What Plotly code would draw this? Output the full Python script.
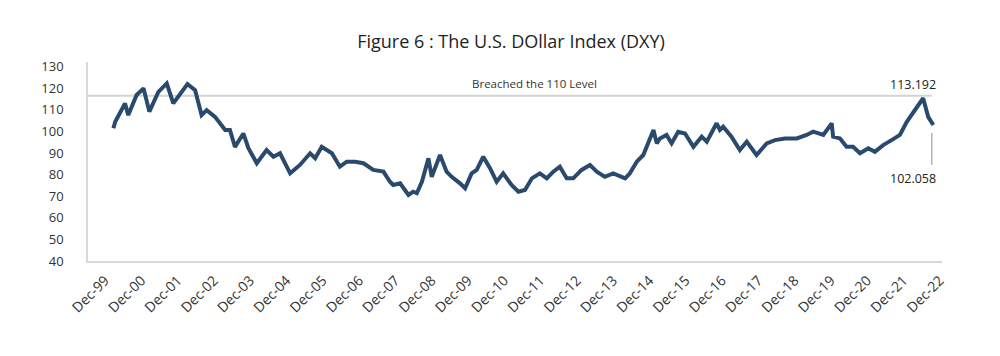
import plotly.graph_objects as go

# DXY readings (decimal year, index value)
years = [2000.18, 2000.23, 2000.50, 2000.59, 2000.82, 2001.01, 2001.17, 2001.42, 2001.65, 2001.83,
         2002.22, 2002.43, 2002.61, 2002.75, 2002.98, 2003.26, 2003.39, 2003.53, 2003.76, 2003.90,
         2004.13, 2004.40, 2004.59, 2004.77, 2005.05, 2005.32, 2005.60, 2005.74, 2005.92, 2006.20,
         2006.42, 2006.61, 2006.84, 2007.07, 2007.34, 2007.62, 2007.80, 2007.89, 2008.08, 2008.31,
         2008.44, 2008.54, 2008.68, 2008.86, 2008.95, 2009.18, 2009.36, 2009.50, 2009.73, 2009.87,
         2010.05, 2010.19, 2010.37, 2010.56, 2010.74, 2010.92, 2011.15, 2011.34, 2011.52, 2011.71,
         2011.93, 2012.12, 2012.30, 2012.48, 2012.67, 2012.85, 2013.08, 2013.31, 2013.50, 2013.72,
         2013.95, 2014.14, 2014.28, 2014.41, 2014.60, 2014.78, 2014.92, 2015.06, 2015.15, 2015.24,
         2015.42, 2015.56, 2015.74, 2015.93, 2016.16, 2016.39, 2016.53, 2016.80, 2016.89, 2016.98,
         2017.21, 2017.44, 2017.63, 2017.90, 2018.18, 2018.41, 2018.68, 2019.01, 2019.28, 2019.46,
         2019.74, 2019.97, 2020.01, 2020.20, 2020.38, 2020.56, 2020.75, 2020.98, 2021.16, 2021.39,
         2021.62, 2021.85, 2022.04, 2022.26, 2022.49, 2022.63, 2022.77]
dxy = [101.5, 104.5, 113.0, 107.6, 116.9, 120.0, 109.2, 118.4, 122.3, 113.0,
       122.0, 119.2, 107.6, 109.9, 106.8, 100.7, 100.7, 92.9, 99.1, 92.3,
       85.3, 91.4, 88.3, 89.9, 80.6, 84.5, 89.9, 87.6, 92.9, 89.9,
       83.7, 86.0, 86.0, 85.3, 82.2, 81.4, 76.7, 75.2, 76.0, 70.6,
       72.1, 71.4, 76.7, 87.6, 79.0, 89.1, 81.4, 79.0, 76.0, 73.7,
       80.6, 82.2, 88.3, 82.9, 76.7, 80.6, 75.2, 72.1, 72.9, 78.3,
       80.6, 78.3, 81.4, 83.7, 78.3, 78.3, 82.2, 84.5, 81.4, 79.0,
       80.6, 79.0, 78.3, 80.6, 86.0, 89.1, 94.5, 100.7, 94.5, 96.8,
       98.4, 94.5, 99.9, 99.1, 92.9, 97.6, 95.3, 103.8, 100.7, 102.2,
       97.6, 91.4, 95.3, 89.1, 94.5, 96.0, 96.8, 96.8, 98.4, 99.9,
       98.4, 103.8, 97.6, 96.8, 92.9, 92.9, 89.9, 92.2, 90.6, 93.7,
       96.0, 98.4, 104.5, 109.9, 115.4, 106.8, 103.0]

tick_years = [1999.95 + k for k in range(24)]
tick_labels = ["Dec-%02d" % ((99 + k) % 100) for k in range(24)]
y_ticks = [40, 50, 60, 70, 80, 90, 100, 110, 120, 130]

breach_level = 116.6
peak_label = "113.192"
last_label = "102.058"

FONT = "Open Sans"

fig = go.Figure()
fig.add_trace(go.Scatter(x=years, y=dxy, mode="lines",
                         line=dict(color="#2a4a6d", width=4),
                         hoverinfo="skip", showlegend=False))

# Breach level line
fig.add_shape(type="line", xref="paper", yref="y", x0=0, x1=0.988,
              y0=breach_level, y1=breach_level,
              line=dict(color="#d4d4d4", width=2), layer="below")
# connector for last value
fig.add_shape(type="line", xref="x", yref="y", x0=2022.73, x1=2022.73, y0=99.3, y1=84.5,
              line=dict(color="#8c8c8c", width=1))

fig.add_annotation(x=2011.77, y=122.4, text="Breached the 110 Level", showarrow=False,
                   font=dict(family=FONT, size=11.5, color="#333333"))
fig.add_annotation(x=2022.21, y=122.0, text=peak_label, showarrow=False,
                   font=dict(family=FONT, size=12.5, color="#222222"))
fig.add_annotation(x=2022.21, y=78.4, text=last_label, showarrow=False,
                   font=dict(family=FONT, size=12.5, color="#222222"))

fig.update_layout(
    width=984, height=340,
    margin=dict(l=80, r=50, t=54, b=87),
    paper_bgcolor="white", plot_bgcolor="white",
    title=dict(text="Figure 6 : The U.S. DOllar Index (DXY)", x=0.5112, xanchor="center",
               y=1 - 34 / 340, yanchor="middle",
               font=dict(family=FONT, size=18, color="#1e1e1e", weight=500)),
    font=dict(family=FONT, color="#333333"),
)
fig.update_xaxes(range=[1999.48, 2023.01], tickvals=tick_years, ticktext=tick_labels,
                 tickangle=-45, showgrid=False, zeroline=False,
                 showline=True, linecolor="#d9d9d9", linewidth=1.5,
                 ticks="", tickfont=dict(family=FONT, size=14, color="#333333"),
                 ticklabelstandoff=4)
fig.update_yaxes(range=[40, 132.2], tickvals=y_ticks, showgrid=False, zeroline=False,
                 showline=True, linecolor="#d9d9d9", linewidth=1.5,
                 ticks="", tickfont=dict(family=FONT, size=13, color="#333333"),
                 ticklabelstandoff=20)

fig.write_html("out.html")
